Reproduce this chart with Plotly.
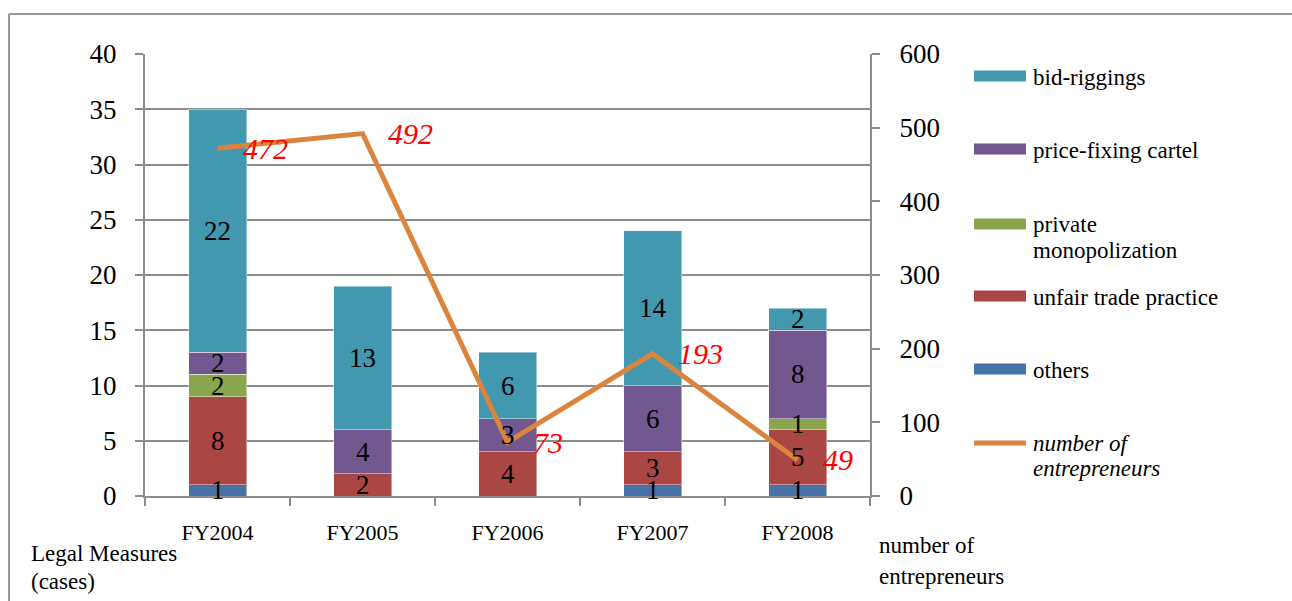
import plotly.graph_objects as go

# ---------------- data ----------------
categories = ["FY2004", "FY2005", "FY2006", "FY2007", "FY2008"]
others = [1, 0, 0, 1, 1]
unfair_trade_practice = [8, 2, 4, 3, 5]
private_monopolization = [2, 0, 0, 0, 1]
price_fixing_cartel = [2, 4, 3, 6, 8]
bid_riggings = [22, 13, 6, 14, 2]
entrepreneurs = [472, 492, 73, 193, 49]

series = [
    ("others", others, "#4572A7"),
    ("unfair trade practice", unfair_trade_practice, "#AA4643"),
    ("private monopolization", private_monopolization, "#89A54E"),
    ("price-fixing cartel", price_fixing_cartel, "#71588F"),
    ("bid-riggings", bid_riggings, "#4198AF"),
]
line_color = "#DB843D"

SERIF = "Liberation Serif"
GRAY = "#8c8c8c"

W, H = 1292, 601
L, R, T, B = 145, 870, 54, 496


def px_x(x):
    return (x - L) / (R - L)


def px_y(y):
    return (B - y) / (B - T)


fig = go.Figure()

# stacked bars
for name, vals, col in series:
    fig.add_trace(go.Bar(
        x=categories, y=vals, name=name,
        marker=dict(color=col, line=dict(color="rgba(255,255,255,0.45)", width=1)),
        width=0.4, showlegend=False, hoverinfo="skip",
    ))

# line on secondary axis
fig.add_trace(go.Scatter(
    x=categories, y=entrepreneurs, yaxis="y2", mode="lines",
    line=dict(color=line_color, width=5), showlegend=False, hoverinfo="skip",
))

annotations = []

# bar value labels (annotations so they sit on top of bars and the line)
base = [0] * len(categories)
for name, vals, col in series:
    for i, v in enumerate(vals):
        if v:
            annotations.append(dict(
                x=categories[i], y=base[i] + v / 2, xref="x", yref="y",
                text=str(v), showarrow=False, xanchor="center", yanchor="middle",
                font=dict(family=SERIF, size=27, color="black"),
            ))
        base[i] += v

# line value labels
for c, v in zip(categories, entrepreneurs):
    annotations.append(dict(
        x=c, y=v, xref="x", yref="y2", text=f"<i>{v}</i>", showarrow=False,
        xanchor="left", yanchor="middle", xshift=23,
        font=dict(family=SERIF, size=30, color="#FF0000"),
    ))

shapes = []
# outer frame (top and left edges)
shapes.append(dict(type="line", xref="paper", yref="paper",
                   x0=px_x(9), x1=px_x(1310), y0=px_y(14), y1=px_y(14),
                   line=dict(color="#999999", width=2)))
shapes.append(dict(type="line", xref="paper", yref="paper",
                   x0=px_x(9), x1=px_x(9), y0=px_y(14), y1=px_y(620),
                   line=dict(color="#999999", width=2)))

# manual legend
legend_items = [
    (["bid-riggings"], [77], "#4198AF", False),
    (["price-fixing cartel"], [150], "#71588F", False),
    (["private", "monopolization"], [225, 250], "#89A54E", False),
    (["unfair trade practice"], [297], "#AA4643", False),
    (["others"], [370], "#4572A7", False),
    (["number of", "entrepreneurs"], [443, 468], line_color, True),
]
for lines, ys, col, is_line in legend_items:
    sy = ys[0] - (1 if not is_line else 0)
    if is_line:
        shapes.append(dict(type="line", xref="paper", yref="paper",
                           x0=px_x(974), x1=px_x(1026), y0=px_y(sy), y1=px_y(sy),
                           line=dict(color=col, width=5)))
    else:
        shapes.append(dict(type="rect", xref="paper", yref="paper",
                           x0=px_x(974), x1=px_x(1026), y0=px_y(sy - 5.5), y1=px_y(sy + 5.5),
                           fillcolor=col, line=dict(width=0)))
    for t, yy in zip(lines, ys):
        annotations.append(dict(
            x=px_x(1031), y=px_y(yy), xref="paper", yref="paper",
            text=(f"<i>{t}</i>" if is_line else t), showarrow=False,
            xanchor="left", yanchor="middle",
            font=dict(family=SERIF, size=23, color="black"),
        ))

# axis titles
for t, xx, yy in [("Legal Measures", 29, 553), ("(cases)", 29, 581),
                  ("number of", 877, 545), ("entrepreneurs", 877, 576)]:
    annotations.append(dict(
        x=px_x(xx), y=px_y(yy), xref="paper", yref="paper", text=t, showarrow=False,
        xanchor="left", yanchor="middle",
        font=dict(family=SERIF, size=23, color="black"),
    ))

fig.update_layout(
    width=W, height=H, autosize=False,
    margin=dict(l=L, r=W - R, t=T, b=H - B, pad=0),
    paper_bgcolor="white", plot_bgcolor="white",
    barmode="stack", showlegend=False,
    font=dict(family=SERIF, color="black"),
    xaxis=dict(
        type="category", range=[-0.5, 4.5],
        showline=True, linecolor=GRAY, linewidth=2,
        ticks="outside", tickson="boundaries", ticklen=8, tickcolor=GRAY, tickwidth=2,
        tickfont=dict(family=SERIF, size=22, color="black"),
        ticklabelstandoff=16, showgrid=False, zeroline=False,
    ),
    yaxis=dict(
        range=[0, 40], dtick=5, showgrid=True, gridcolor=GRAY, gridwidth=2,
        showline=True, linecolor=GRAY, linewidth=2,
        ticks="outside", ticklen=8, tickcolor=GRAY, tickwidth=2,
        tickfont=dict(family=SERIF, size=27, color="black"),
        ticklabelstandoff=13, zeroline=False,
    ),
    yaxis2=dict(
        overlaying="y", side="right", range=[0, 600], dtick=100,
        showgrid=False, showline=True, linecolor=GRAY, linewidth=2,
        ticks="outside", ticklen=8, tickcolor=GRAY, tickwidth=2,
        tickfont=dict(family=SERIF, size=27, color="black"),
        ticklabelstandoff=14, zeroline=False,
    ),
    shapes=shapes,
    annotations=annotations,
)

fig.write_html(
    "out.html",
    config={"displayModeBar": False},
    post_script="document.body.style.margin='0';document.body.style.overflow='hidden';",
)
